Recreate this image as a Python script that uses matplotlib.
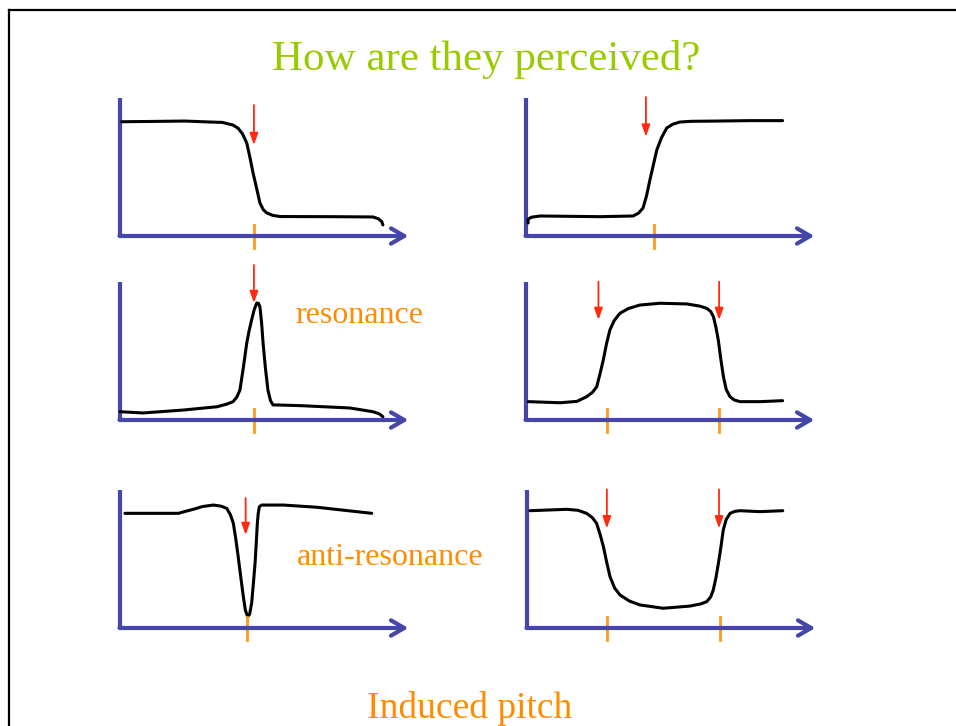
import matplotlib
matplotlib.use('Agg')
import matplotlib.pyplot as plt
from matplotlib.lines import Line2D

plt.rcParams['font.family'] = ['Liberation Serif', 'DejaVu Serif']

title = 'How are they perceived?'
footer = 'Induced pitch'
label_res = 'resonance'
label_anti = 'anti-resonance'

# curve shapes, each panel in local units (0-100 along each axis)
low_pass_x = [0.8, 10.7, 22.9, 31.6, 36.0, 39.7, 41.5, 43.0, 44.5, 45.6, 46.7, 47.9, 49.1, 50.3,
              51.5, 53.5, 56.1, 74.7, 88.6, 90.5, 91.7, 92.1]
low_pass_y = [82.8, 83.0, 83.3, 82.6, 82.3, 80.4, 78.0, 74.0, 67.4, 57.0, 45.7, 35.0, 23.9, 19.0,
              16.7, 15.0, 14.1, 14.0, 13.8, 12.5, 10.4, 8.0]

high_pass_x = [0.9, 0.9, 2.0, 5.1, 26.0, 37.6, 39.5, 41.1, 42.3, 43.5, 44.7, 45.9, 47.5, 49.4,
               51.5, 54.0, 58.0, 66.9, 78.5, 89.9]
high_pass_y = [9.4, 12.0, 13.6, 14.5, 14.0, 14.5, 16.5, 20.3, 29.0, 40.6, 51.5, 62.3, 71.0, 78.3,
               81.0, 82.6, 83.1, 83.3, 83.6, 83.6]

peak_x = [0.2, 8.2, 22.2, 34.1, 37.5, 39.7, 41.0, 42.1, 43.3, 44.5, 45.3, 46.2, 47.1, 48.0, 48.6,
          49.1, 49.7, 50.2, 51.0, 51.9, 52.8, 53.7, 55.0, 63.3, 80.6, 88.6, 90.8, 92.1]
peak_y = [6.0, 5.1, 7.2, 9.6, 11.5, 13.3, 16.5, 21.7, 38.0, 55.8, 64.5, 72.5, 80.0, 84.8, 84.5,
          82.1, 70.0, 55.8, 38.0, 21.7, 14.0, 10.9, 10.9, 10.4, 8.7, 6.0, 4.5, 2.4]

band_pass_x = [1.0, 12.1, 18.0, 21.4, 23.4, 24.9, 26.0, 27.2, 28.3, 29.5, 31.0, 33.0, 36.0, 40.0,
               47.0, 56.4, 61.0, 63.4, 64.8, 65.7, 66.6, 67.4, 68.3, 69.2, 70.2, 71.5, 73.0, 75.0,
               82.0, 89.9]
band_pass_y = [13.3, 12.5, 13.5, 16.9, 20.0, 24.1, 33.0, 43.5, 55.0, 65.2, 72.0, 77.3, 80.8, 83.3,
               84.6, 84.1, 82.5, 80.9, 78.5, 74.9, 67.0, 58.0, 44.0, 31.4, 22.0, 16.9, 14.5, 13.3,
               13.3, 14.0]

notch_x = [1.9, 20.6, 23.0, 25.8, 29.0, 32.8, 35.5, 37.5, 38.8, 39.8, 40.7, 41.5, 42.4, 43.3, 44.0,
           44.8, 45.5, 46.2, 46.8, 47.4, 47.8, 48.2, 48.5, 48.9, 49.7, 57.3, 69.0, 88.2]
notch_y = [83.1, 83.1, 84.5, 86.0, 88.0, 89.1, 88.3, 86.7, 82.0, 75.9, 64.0, 51.7, 37.0, 22.7, 13.0,
           8.2, 10.0, 17.9, 32.0, 46.9, 61.0, 75.9, 83.0, 87.9, 89.1, 89.1, 87.5, 83.1]

band_stop_x = [1.2, 14.1, 18.0, 21.0, 23.0, 24.5, 25.7, 26.9, 28.0, 29.2, 30.8, 32.7, 36.0, 39.7,
               47.8, 57.2, 61.0, 63.0, 64.4, 65.3, 66.2, 67.1, 68.0, 68.8, 69.8, 71.2, 72.8, 74.7,
               81.6, 89.6]
band_stop_y = [85.0, 86.0, 85.3, 83.1, 80.0, 75.9, 68.0, 58.9, 48.0, 37.2, 29.0, 23.9, 19.5, 16.7,
               14.3, 15.9, 17.5, 19.1, 22.5, 27.5, 36.0, 46.9, 59.0, 71.0, 78.5, 83.1, 84.5, 85.0,
               84.3, 85.0]

# where the pitch is marked (arrow x, arrow top, arrow tip, tick x)
low_pass_marks = [(47.0, 94.9, 65.9, 47.0)]
high_pass_marks = [(42.1, 100.7, 72.0, 44.9)]
peak_marks = [(47.0, 112.3, 84.8, 47.1)]
band_pass_marks = [(25.5, 100.2, 72.5, 28.4), (67.7, 100.2, 72.5, 67.7)]
notch_marks = [(44.1, 94.2, 67.4, 44.5)]
band_stop_marks = [(28.1, 100.5, 72.2, 28.1), (67.3, 100.5, 72.2, 67.5)]

axis_col = '#4646A8'
tick_col = '#FF9A1A'
arrow_col = '#FF2A10'
W, H = 956, 726

fig = plt.figure(figsize=(9.56, 7.26), dpi=100)
fig.patch.set_facecolor('white')

# slide frame
fig.add_artist(Line2D([9 / W, 1], [1 - 10 / H, 1 - 10 / H], color='black', lw=1.6))
fig.add_artist(Line2D([9 / W, 9 / W], [0, 1 - 10 / H], color='black', lw=1.6))

panels = [
    (119.5, 236, low_pass_x, low_pass_y, low_pass_marks),
    (525.5, 236, high_pass_x, high_pass_y, high_pass_marks),
    (119.5, 420, peak_x, peak_y, peak_marks),
    (525.5, 420, band_pass_x, band_pass_y, band_pass_marks),
    (119.5, 628, notch_x, notch_y, notch_marks),
    (526.5, 628, band_stop_x, band_stop_y, band_stop_marks),
]

for left, base, xs, ys, marks in panels:
    ax = fig.add_axes([left / W, (H - base) / H, 286 / W, 138 / H])
    ax.set_xlim(0, 100)
    ax.set_ylim(0, 100)
    ax.axis('off')
    # axes drawn by hand
    ax.plot([0, 0], [0, 100], color=axis_col, lw=3, solid_capstyle='butt', clip_on=False)
    ax.annotate('', xy=(101, 0), xytext=(0, 0),
                arrowprops=dict(arrowstyle='->,head_length=0.95,head_width=0.55',
                                color=axis_col, lw=3, shrinkA=0, shrinkB=0),
                annotation_clip=False)
    ax.plot(xs, ys, color='black', lw=2.2, solid_capstyle='round',
            solid_joinstyle='round', clip_on=False)
    for ax_x, top, tip, tx in marks:
        ax.annotate('', xy=(ax_x, tip), xytext=(ax_x, top),
                    arrowprops=dict(arrowstyle='-|>,head_length=0.7,head_width=0.25',
                                    color=arrow_col, lw=1.3, shrinkA=0, shrinkB=0),
                    annotation_clip=False)
        ax.plot([tx, tx], [8, -9], color=tick_col, lw=2, clip_on=False)

fig.text(486 / W, 1 - 70 / H, title, color='#99CC00', fontsize=31,
         ha='center', va='baseline')
fig.text(295 / W, 1 - 323 / H, label_res, color='#FF8C00', fontsize=23,
         ha='left', va='baseline')
fig.text(297 / W, 1 - 565 / H, label_anti, color='#FF8C00', fontsize=23,
         ha='left', va='baseline')
fig.text(470 / W, 1 - 718 / H, footer, color='#FF8C00', fontsize=27,
         ha='center', va='baseline')

fig.savefig('out.png', dpi=100)
